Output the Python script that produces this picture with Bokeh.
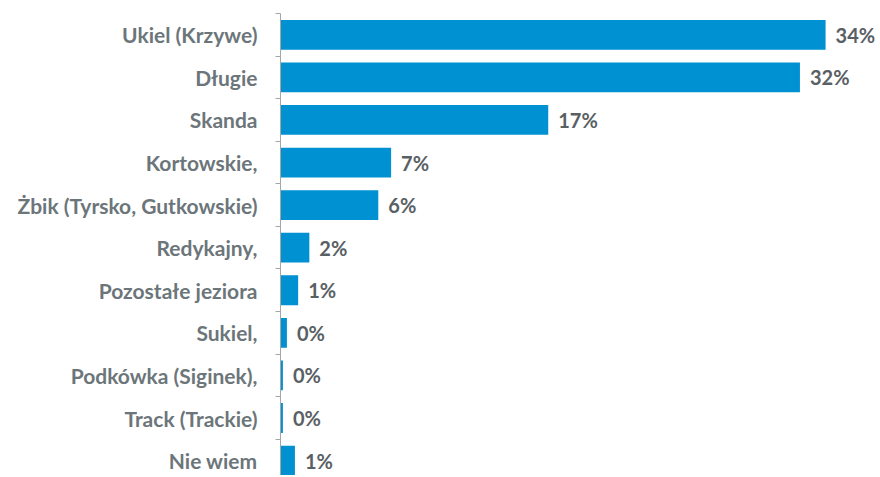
from bokeh.plotting import figure
from bokeh.models import Range1d, FixedTicker, ColumnDataSource
from bokeh.core.properties import value
from bokeh.embed import file_html
from bokeh.resources import INLINE

categories = ["Ukiel (Krzywe)", "Długie", "Skanda", "Kortowskie,",
              "Żbik (Tyrsko, Gutkowskie)", "Redykajny,", "Pozostałe jeziora",
              "Sukiel,", "Podkówka (Siginek),", "Track (Trackie)", "Nie wiem"]
values = [34.0, 32.4, 16.7, 6.9, 6.1, 1.8, 1.1, 0.4, 0.15, 0.15, 0.9]
labels = ["34%", "32%", "17%", "7%", "6%", "2%", "1%", "0%", "0%", "0%", "1%"]

pos = list(range(len(categories)))
src = ColumnDataSource(dict(y=pos, v=values, lab=labels))

FONT = "Lato"
p = figure(width=878, height=475, output_backend="svg", toolbar_location=None,
           x_range=Range1d(0, 37.3), y_range=Range1d(10.35, -0.5),
           min_border_left=280, min_border_right=0, min_border_top=13,
           min_border_bottom=0)
p.outline_line_color = None
p.xgrid.visible = False
p.ygrid.visible = False
p.xaxis.visible = False

p.hbar(y="y", right="v", left=0, height=0.7, source=src,
       fill_color="#0091D2", line_color=None)
p.text(x="v", y="y", text="lab", source=src, x_offset=10,
       text_baseline="middle", text_align="left",
       text_font=value(FONT), text_font_style="bold", text_font_size="20px",
       text_color="#596064")

ax = p.yaxis[0]
ax.ticker = FixedTicker(ticks=pos, minor_ticks=[i - 0.5 for i in pos])
ax.major_label_overrides = {i: c for i, c in zip(pos, categories)}
ax.major_tick_out = 0
ax.major_tick_in = 0
ax.minor_tick_out = 5
ax.minor_tick_in = 0
ax.minor_tick_line_color = "#a6a6a6"
ax.axis_line_color = "#a6a6a6"
ax.major_label_standoff = 18
ax.major_label_text_font = FONT
ax.major_label_text_font_style = "bold"
ax.major_label_text_font_size = "21px"
ax.major_label_text_color = "#6c767a"

open("out.html", "w").write(file_html(p, INLINE))
